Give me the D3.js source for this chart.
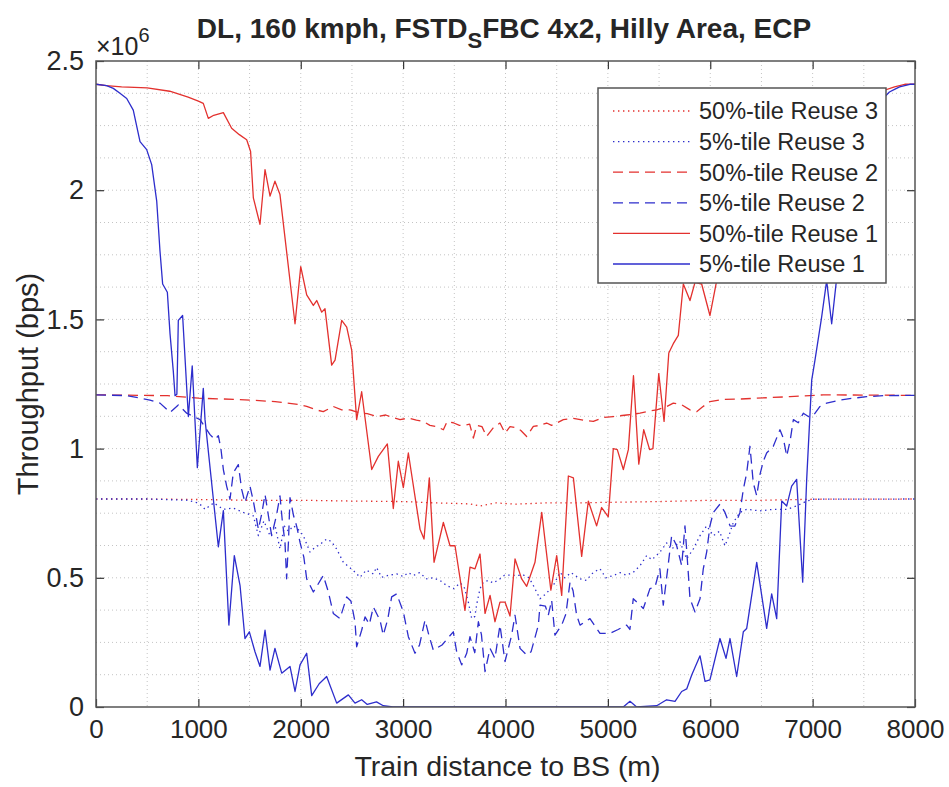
<!DOCTYPE html>
<html><head><meta charset="utf-8">
<script src="https://cdn.jsdelivr.net/npm/d3@7/dist/d3.min.js"></script>
<style>
body{margin:0;background:#fff}
text{font-family:"Liberation Sans",Arial,Helvetica,sans-serif;fill:#262626}
</style>
</head><body>
<svg id="chart" width="949" height="787"></svg>
<script>
// ---------------- data (throughput in units of 1e6 bps, distance in m) ----------------
const xTickValues = [0,1000,2000,3000,4000,5000,6000,7000,8000];
const yTickValues = [0,0.5,1,1.5,2,2.5];
const yTickLabels = ["0","0.5","1","1.5","2","2.5"];
const seriesNames = ["50%-tile Reuse 3","5%-tile Reuse 3","50%-tile Reuse 2","5%-tile Reuse 2","50%-tile Reuse 1","5%-tile Reuse 1"];

// 50%-tile Reuse 3 (red dotted)
const r3Dist = [0,500,1000,1500,2000,2500,3000,3300,3500,3650,3750,3900,4100,4400,4700,5000,5500,6000,6500,7000,8000];
const r3Val  = [0.805,0.805,0.803,0.800,0.800,0.797,0.795,0.790,0.788,0.786,0.778,0.790,0.785,0.790,0.790,0.792,0.795,0.800,0.800,0.804,0.805];

// 5%-tile Reuse 3 (blue dotted)
const b3Dist = [0,500,900,983,1030,1065,1150,1244,1340,1439,1537,1586,1640,1700,1750,1797,1840,1880,1928,1970,2025,2090,2123,2190,2253,2300,2350,2416,2514,2579,2640,2709,2740,2790,2860,2937,3000,3050,3100,3160,3230,3290,3360,3425,3490,3560,3600,3637,3670,3700,3720,3751,3783,3830,3880,3946,3990,4040,4109,4180,4230,4272,4337,4400,4467,4532,4580,4640,4728,4790,4858,4923,4980,5053,5120,5180,5248,5314,5379,5430,5508,5574,5620,5704,5769,5835,5900,5965,6030,6090,6144,6180,6225,6290,6356,6486,6616,6747,6844,6942,7007,8000];
const b3Val  = [0.805,0.805,0.800,0.791,0.780,0.765,0.790,0.765,0.770,0.753,0.740,0.663,0.720,0.663,0.700,0.612,0.700,0.680,0.701,0.690,0.663,0.600,0.612,0.630,0.650,0.640,0.612,0.560,0.528,0.502,0.530,0.515,0.540,0.502,0.510,0.515,0.505,0.520,0.509,0.520,0.496,0.500,0.490,0.470,0.458,0.480,0.460,0.406,0.342,0.350,0.400,0.458,0.483,0.490,0.480,0.496,0.510,0.510,0.509,0.510,0.500,0.470,0.419,0.440,0.470,0.521,0.500,0.520,0.496,0.490,0.521,0.535,0.500,0.509,0.520,0.510,0.521,0.547,0.586,0.570,0.599,0.635,0.610,0.640,0.573,0.612,0.663,0.701,0.663,0.680,0.624,0.660,0.714,0.753,0.765,0.759,0.765,0.765,0.778,0.797,0.804,0.805];

// 50%-tile Reuse 2 (red dashed)
const r2Dist = [0,700,1000,1400,1750,1993,2058,2150,2220,2318,2400,2481,2560,2650,2742,2830,2900,2970,3050,3130,3197,3262,3330,3393,3430,3490,3550,3600,3650,3686,3720,3770,3816,3880,3946,3995,4044,4110,4150,4207,4272,4340,4402,4450,4500,4565,4663,4760,4858,4950,5053,5183,5314,5400,5477,5560,5639,5720,5802,5867,5920,5997,6128,6300,6454,6779,7104,8000];
const r2Val  = [1.208,1.205,1.195,1.190,1.182,1.170,1.163,1.150,1.143,1.163,1.150,1.150,1.140,1.135,1.124,1.130,1.120,1.112,1.118,1.110,1.105,1.090,1.085,1.073,1.105,1.100,1.090,1.090,1.095,1.041,1.090,1.085,1.047,1.080,1.099,1.060,1.085,1.080,1.070,1.047,1.086,1.090,1.099,1.090,1.099,1.112,1.117,1.110,1.105,1.120,1.124,1.130,1.137,1.145,1.150,1.160,1.176,1.170,1.150,1.143,1.160,1.182,1.190,1.192,1.195,1.201,1.208,1.206];

// 5%-tile Reuse 2 (blue dashed)
const b2Dist = [0,300,527,625,723,804,886,1016,1114,1162,1195,1220,1244,1276,1309,1341,1390,1423,1455,1504,1537,1586,1620,1651,1680,1716,1765,1797,1820,1846,1862,1880,1895,1930,1960,1993,2030,2058,2123,2220,2270,2318,2383,2449,2490,2530,2546,2595,2628,2670,2709,2774,2806,2850,2888,2937,3002,3051,3116,3160,3214,3250,3295,3380,3490,3523,3572,3621,3653,3700,3735,3765,3800,3849,3897,3946,3995,4060,4093,4142,4207,4250,4321,4337,4390,4418,4451,4483,4520,4549,4590,4630,4660,4695,4728,4780,4825,4923,5020,5100,5183,5215,5248,5300,5346,5411,5460,5508,5541,5580,5623,5672,5721,5753,5785,5802,5851,5900,5932,5965,5997,6030,6095,6144,6193,6240,6290,6323,6356,6388,6420,6454,6486,6518,6551,6616,6681,6714,6747,6780,6812,6860,6909,6958,7010,7072,7137,7267,7397,7528,7700,8000];
const b2Val  = [1.208,1.205,1.188,1.176,1.140,1.169,1.137,1.112,1.054,1.035,1.050,1.000,0.919,0.855,0.804,0.906,0.938,0.842,0.791,0.855,0.797,0.688,0.750,0.823,0.750,0.663,0.746,0.817,0.720,0.637,0.496,0.640,0.810,0.740,0.700,0.637,0.580,0.496,0.445,0.509,0.445,0.362,0.342,0.426,0.410,0.330,0.233,0.297,0.349,0.320,0.387,0.336,0.278,0.340,0.426,0.438,0.368,0.272,0.208,0.240,0.336,0.280,0.220,0.240,0.291,0.214,0.163,0.208,0.272,0.210,0.330,0.280,0.137,0.227,0.188,0.317,0.176,0.278,0.355,0.227,0.201,0.214,0.317,0.394,0.390,0.355,0.413,0.278,0.300,0.317,0.360,0.483,0.450,0.355,0.317,0.330,0.342,0.285,0.285,0.300,0.317,0.300,0.419,0.400,0.381,0.458,0.464,0.535,0.394,0.520,0.663,0.624,0.547,0.701,0.521,0.419,0.368,0.419,0.535,0.599,0.701,0.753,0.785,0.753,0.701,0.700,0.753,0.842,0.906,1.009,0.868,0.817,0.900,0.951,0.983,1.009,1.073,1.040,0.971,1.030,1.112,1.100,1.137,1.124,1.130,1.163,1.176,1.188,1.195,1.201,1.205,1.206];

// 50%-tile Reuse 1 (red solid)
const r1Dist = [0,100,250,500,720,900,1000,1048,1097,1150,1244,1325,1400,1472,1510,1537,1602,1651,1700,1748,1797,1944,2000,2058,2123,2156,2205,2237,2302,2335,2400,2449,2498,2546,2595,2693,2758,2846,2904,2953,3002,3051,3165,3204,3256,3302,3393,3458,3507,3604,3653,3702,3751,3800,3849,3897,3946,3995,4044,4093,4158,4207,4288,4354,4443,4500,4549,4614,4663,4744,4809,4890,4939,5004,5053,5092,5151,5200,5250,5302,5350,5408,5440,5497,5549,5595,5639,5688,5737,5802,5851,5916,5997,6063,6120,6200,6260,6330,6400,6460,6530,6600,6680,6760,6850,6950,7100,7300,7500,7650,7800,7900,8000];
const r1Val  = [2.410,2.405,2.400,2.396,2.383,2.360,2.345,2.336,2.278,2.290,2.300,2.240,2.215,2.195,2.150,1.970,1.868,2.080,1.977,2.035,1.983,1.483,1.704,1.595,1.554,1.573,1.528,1.541,1.323,1.342,1.496,1.470,1.380,1.112,1.220,0.919,0.970,1.018,0.768,0.951,0.849,0.983,0.688,0.650,0.887,0.560,0.714,0.624,0.624,0.374,0.541,0.535,0.592,0.362,0.432,0.330,0.406,0.406,0.352,0.573,0.496,0.467,0.560,0.753,0.452,0.586,0.432,0.894,0.887,0.583,0.797,0.701,0.772,0.736,1.000,0.996,0.919,0.996,1.282,0.940,1.073,0.996,1.000,1.290,1.105,1.370,1.406,1.438,1.637,1.573,1.643,1.637,1.515,1.650,1.720,1.700,1.820,1.860,1.950,2.020,2.000,2.120,2.180,2.220,2.270,2.310,2.340,2.360,2.370,2.380,2.400,2.410,2.410];

// 5%-tile Reuse 1 (blue solid)
const b1Dist = [0,104,169,234,300,364,430,495,544,593,625,651,697,723,755,772,790,804,846,902,940,990,1048,1065,1195,1244,1298,1351,1407,1455,1498,1553,1602,1651,1700,1748,1814,1895,1944,1993,2058,2107,2180,2253,2351,2465,2530,2595,2650,2740,2806,2900,5150,5216,5281,5477,5574,5656,5721,5770,5819,5900,5949,5997,6095,6154,6193,6258,6323,6356,6454,6551,6600,6649,6698,6747,6795,6844,6903,6942,6991,7023,7088,7137,7186,7235,7300,7350,7400,7450,7500,7550,7600,7650,7700,7750,7800,7850,7900,7950,8000];
const b1Val  = [2.410,2.405,2.394,2.375,2.355,2.310,2.188,2.157,2.099,1.958,1.765,1.637,1.605,1.445,1.300,1.205,1.210,1.496,1.515,1.124,1.320,0.926,1.233,1.112,0.620,0.760,0.317,0.586,0.470,0.265,0.291,0.214,0.157,0.297,0.143,0.227,0.131,0.157,0.060,0.163,0.208,0.044,0.090,0.118,0.015,0.047,0.015,0.028,0.010,0.020,0.005,0.000,0.000,0.022,0.000,0.005,0.028,0.022,0.060,0.070,0.124,0.198,0.099,0.105,0.265,0.188,0.265,0.118,0.291,0.304,0.560,0.304,0.438,0.342,0.797,0.778,0.855,0.881,0.483,0.881,1.265,1.342,1.509,1.650,1.483,1.660,1.850,1.950,2.050,2.120,2.200,2.250,2.300,2.330,2.360,2.380,2.390,2.400,2.405,2.410,2.410];

// ---------------- drawing ----------------
const RED = "#e3312e", BLUE = "#2d2dcc";
const series = [
  {name: seriesNames[0], d: r3Dist, v: r3Val, color: RED,  dash: "1.4,3.6"},
  {name: seriesNames[1], d: b3Dist, v: b3Val, color: BLUE, dash: "1.4,3.6"},
  {name: seriesNames[2], d: r2Dist, v: r2Val, color: RED,  dash: "10,6"},
  {name: seriesNames[3], d: b2Dist, v: b2Val, color: BLUE, dash: "10,6"},
  {name: seriesNames[4], d: r1Dist, v: r1Val, color: RED,  dash: null},
  {name: seriesNames[5], d: b1Dist, v: b1Val, color: BLUE, dash: null}
];

const svg = d3.select("#chart");
svg.append("rect").attr("width",949).attr("height",787).attr("fill","#fff");

const L = 96, R = 915, T = 61, B = 707;
const x = d3.scaleLinear().domain([0,8000]).range([L,R]);
const y = d3.scaleLinear().domain([0,2.5]).range([B,T]);

// grid (major + minor, dotted)
const g = svg.append("g");
const xGrid = d3.range(500, 8000, 500);
const yGrid = d3.range(0.125, 2.5, 0.125);
g.selectAll(".vg").data(xGrid).join("line")
  .attr("x1", d => x(d)).attr("x2", d => x(d)).attr("y1", T).attr("y2", B)
  .attr("stroke", "#c4c4c4").attr("stroke-width", 1).attr("stroke-dasharray", "1,3");
g.selectAll(".hg").data(yGrid).join("line")
  .attr("x1", L).attr("x2", R).attr("y1", d => y(d)).attr("y2", d => y(d))
  .attr("stroke", "#c4c4c4").attr("stroke-width", 1).attr("stroke-dasharray", "1,3");

// lines
svg.append("clipPath").attr("id","clip").append("rect")
  .attr("x",L).attr("y",T).attr("width",R-L).attr("height",B-T);
const line = d3.line().x(d => x(d[0])).y(d => y(d[1]));
const lg = svg.append("g").attr("clip-path","url(#clip)");
series.forEach(s => {
  const pts = s.d.map((dd,i) => [dd, s.v[i]]);
  lg.append("path").datum(pts).attr("d", line).attr("fill","none")
    .attr("stroke", s.color).attr("stroke-width", 1.3)
    .attr("stroke-dasharray", s.dash).attr("stroke-linejoin","round");
});

// axes
const fmt = d => String(d);
const xAxis = svg.append("g").attr("transform",`translate(0,${B})`)
  .call(d3.axisBottom(x).tickValues(xTickValues).tickFormat(fmt).tickSize(-8).tickPadding(13));
const xAxisTop = svg.append("g").attr("transform",`translate(0,${T})`)
  .call(d3.axisTop(x).tickValues(xTickValues).tickFormat("").tickSize(-8));
const yAxis = svg.append("g").attr("transform",`translate(${L},0)`)
  .call(d3.axisLeft(y).tickValues(yTickValues).tickFormat((d,i)=>yTickLabels[i]).tickSize(-8).tickPadding(12));
const yAxisR = svg.append("g").attr("transform",`translate(${R},0)`)
  .call(d3.axisRight(y).tickValues(yTickValues).tickFormat("").tickSize(-8));
[xAxis,xAxisTop,yAxis,yAxisR].forEach(a => {
  a.select(".domain").remove();
  a.selectAll(".tick line").attr("stroke","#333").attr("stroke-width",1.2);
  a.selectAll(".tick text").attr("font-size",26).attr("fill","#262626")
    .attr("font-family","'Liberation Sans',Arial,sans-serif");
});
yAxis.selectAll(".tick text").attr("font-size",27);
svg.append("rect").attr("x",L).attr("y",T).attr("width",R-L).attr("height",B-T)
  .attr("fill","none").attr("stroke","#555").attr("stroke-width",1.5);

// exponent
const ex = svg.append("text").attr("x",L).attr("y",55).attr("font-size",25);
ex.append("tspan").text("×10");
ex.append("tspan").attr("dy",-13).attr("font-size",20).text("6");

// title
const title = svg.append("text").attr("x",504).attr("y",38).attr("text-anchor","middle")
  .attr("font-size",28).attr("font-weight","bold").attr("fill","#111");
title.append("tspan").text("DL, 160 kmph, FSTD");
title.append("tspan").attr("dy",10).attr("font-size",22).text("S");
title.append("tspan").attr("dy",-10).text("FBC 4x2, Hilly Area, ECP");

// axis labels
svg.append("text").attr("x",(L+R)/2 + 2).attr("y",776).attr("text-anchor","middle")
  .attr("font-size",28.5).text("Train distance to BS (m)");
svg.append("text").attr("transform",`translate(38,${(T+B)/2}) rotate(-90)`)
  .attr("text-anchor","middle").attr("font-size",29).text("Throughput (bps)");

// legend
const lgX = 598, lgY = 88, lgW = 288, lgH = 195;
const leg = svg.append("g");
leg.append("rect").attr("x",lgX).attr("y",lgY).attr("width",lgW).attr("height",lgH)
  .attr("fill","#fff").attr("stroke","#555").attr("stroke-width",1.5);
series.forEach((s,i) => {
  const yy = lgY + 23 + i*30.6;
  leg.append("line").attr("x1",lgX+15).attr("x2",lgX+92).attr("y1",yy).attr("y2",yy)
    .attr("stroke",s.color).attr("stroke-width",1.3).attr("stroke-dasharray",s.dash);
  leg.append("text").attr("x",lgX+101).attr("y",yy).attr("dy","0.36em")
    .attr("font-size",23.5).text(s.name);
});
</script>
</body></html>
